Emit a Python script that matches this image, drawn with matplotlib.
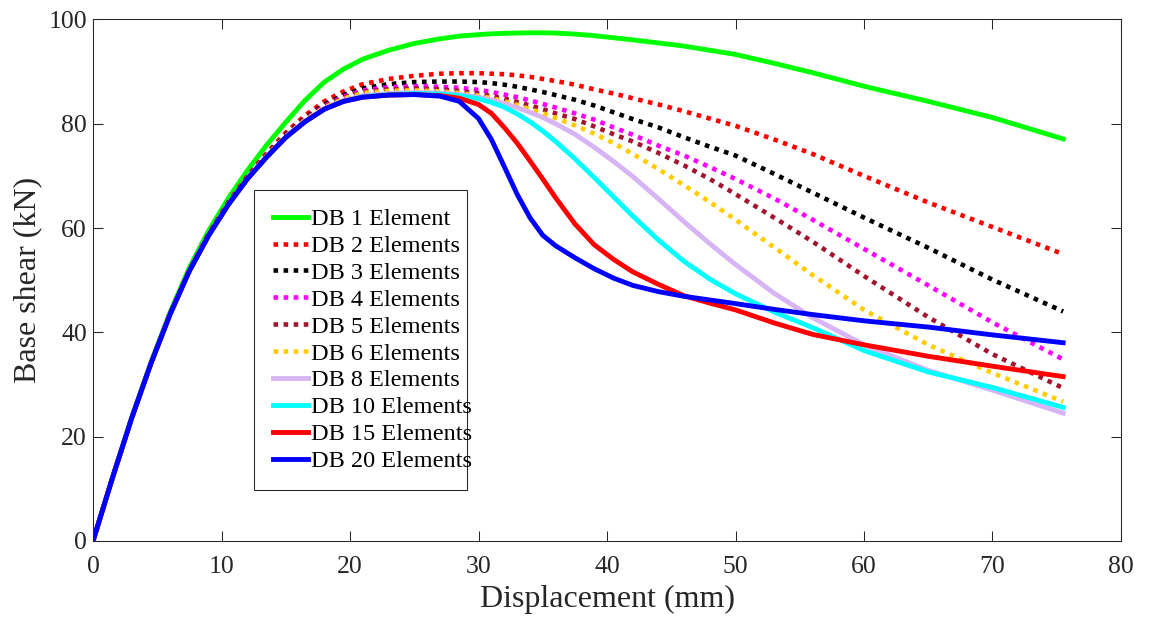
import matplotlib
matplotlib.use('Agg')
import matplotlib.pyplot as plt

plt.rcParams['font.family'] = ['Liberation Serif', 'DejaVu Serif']

# displacement (mm), shared by all series
disp = [0, 1.5, 3, 4.5, 6, 7.5, 9, 10.5, 12, 13.5,
        15, 16.5, 18, 19.5, 21, 23, 25, 27, 28.5, 30,
        31, 32, 33, 34, 35, 36, 37.5, 39, 40.5, 42,
        44, 46, 48, 50, 53, 56, 60, 65, 70, 75.5]

# base shear (kN)
db1 = [0, 12.0, 23.6, 34.2, 43.9, 52.4, 59.5, 65.6, 71.0, 75.9,
       80.3, 84.5, 88.0, 90.5, 92.4, 94.1, 95.4, 96.3, 96.8, 97.1,
       97.25, 97.35, 97.4, 97.45, 97.45, 97.4, 97.2, 96.9, 96.5, 96.1,
       95.5, 94.9, 94.1, 93.3, 91.6, 89.8, 87.2, 84.3, 81.2, 77.1]
db2 = [0, 12.0, 23.5, 34.0, 43.6, 52.0, 58.9, 64.8, 69.9, 74.3,
       78.3, 81.6, 84.3, 86.2, 87.6, 88.6, 89.2, 89.6, 89.7, 89.7,
       89.6, 89.5, 89.3, 89.0, 88.6, 88.2, 87.5, 86.6, 85.8, 84.9,
       83.7, 82.4, 81.0, 79.6, 77.0, 74.2, 70.0, 64.9, 60.2, 55.0]
db3 = [0, 12.0, 23.5, 34.0, 43.6, 51.9, 58.8, 64.7, 69.7, 74.0,
       77.9, 81.1, 83.7, 85.5, 86.8, 87.6, 88.0, 88.1, 88.1, 88.0,
       87.8, 87.5, 87.1, 86.6, 86.1, 85.5, 84.6, 83.5, 82.2, 80.9,
       79.3, 77.4, 75.6, 73.9, 70.4, 66.8, 62.0, 56.2, 50.1, 44.0]
db4 = [0, 12.0, 23.5, 34.0, 43.6, 51.9, 58.7, 64.6, 69.6, 73.9,
       77.7, 80.9, 83.4, 85.2, 86.4, 87.0, 87.2, 87.1, 86.9, 86.5,
       86.1, 85.6, 85.1, 84.5, 83.8, 83.1, 82.0, 80.8, 79.3, 77.9,
       75.8, 73.9, 71.7, 69.4, 65.7, 61.6, 56.0, 49.0, 41.9, 34.8]
db5 = [0, 12.0, 23.5, 34.0, 43.6, 51.9, 58.7, 64.5, 69.6, 73.8,
       77.6, 80.8, 83.2, 85.0, 86.1, 86.6, 86.8, 86.6, 86.3, 85.8,
       85.3, 84.8, 84.2, 83.5, 82.8, 82.0, 80.9, 79.5, 78.0, 76.6,
       74.4, 72.0, 69.4, 66.5, 62.0, 57.4, 50.8, 42.9, 35.8, 29.3]
db6 = [0, 12.0, 23.5, 34.0, 43.6, 51.9, 58.7, 64.5, 69.5, 73.8,
       77.6, 80.7, 83.1, 84.8, 85.9, 86.3, 86.4, 86.2, 85.9, 85.4,
       84.9, 84.3, 83.6, 82.8, 82.0, 81.1, 79.7, 78.1, 76.3, 74.2,
       71.3, 68.2, 65.0, 61.6, 56.3, 51.0, 44.3, 37.6, 32.2, 26.7]
db8 = [0, 12.0, 23.5, 34.0, 43.5, 51.8, 58.6, 64.4, 69.4, 73.6,
       77.4, 80.5, 82.9, 84.5, 85.4, 85.8, 86.0, 85.9, 85.6, 85.1,
       84.6, 83.9, 83.1, 82.2, 81.2, 80.0, 78.0, 75.5, 72.8, 69.9,
       65.6, 61.2, 57.0, 53.0, 47.5, 42.8, 37.6, 32.7, 28.9, 24.5]
db10 = [0, 12.0, 23.5, 34.0, 43.5, 51.8, 58.6, 64.4, 69.4, 73.6,
        77.4, 80.4, 82.8, 84.3, 85.2, 85.6, 85.8, 85.7, 85.4, 84.8,
        84.1, 83.2, 81.9, 80.4, 78.6, 76.6, 73.3, 69.7, 66.0, 62.3,
        57.7, 53.6, 50.2, 47.4, 43.9, 40.9, 36.5, 32.4, 29.4, 25.6]
db15 = [0, 12.0, 23.5, 34.0, 43.5, 51.8, 58.6, 64.4, 69.4, 73.6,
        77.4, 80.4, 82.8, 84.3, 85.1, 85.5, 85.6, 85.4, 84.9, 83.7,
        82.0, 79.3, 76.3, 72.9, 69.4, 65.8, 60.8, 56.8, 54.0, 51.6,
        49.2, 47.0, 45.6, 44.3, 41.8, 39.6, 37.6, 35.4, 33.5, 31.5]
db20 = [0, 12.0, 23.5, 34.0, 43.5, 51.8, 58.6, 64.4, 69.4, 73.6,
        77.4, 80.4, 82.8, 84.3, 85.1, 85.5, 85.6, 85.3, 84.3, 81.0,
        77.0, 71.8, 66.5, 62.0, 58.6, 56.6, 54.3, 52.2, 50.4, 49.0,
        47.8, 46.9, 46.2, 45.5, 44.4, 43.4, 42.2, 41.0, 39.5, 38.0]

labels = ['DB 1 Element', 'DB 2 Elements', 'DB 3 Elements', 'DB 4 Elements',
          'DB 5 Elements', 'DB 6 Elements', 'DB 8 Elements', 'DB 10 Elements',
          'DB 15 Elements', 'DB 20 Elements']
series = [db1, db2, db3, db4, db5, db6, db8, db10, db15, db20]
colors = ['#00FF00', '#FF0000', '#000000', '#FF00FF', '#A2142F',
          '#FFCC00', '#D7B5F5', '#00FFFF', '#FF0000', '#0000FF']
dotted = [False, True, True, True, True, True, False, False, False, False]

fig = plt.figure(figsize=(11.49, 6.19), dpi=100)
ax = fig.add_axes([0.081, 0.1263, 0.8946, 0.8422])

for y, lab, c, dot in zip(series, labels, colors, dotted):
    if dot:
        ax.plot(disp, y, color=c, lw=3.3, linestyle=(0, (1, 1.2)),
                dash_capstyle='butt', label=lab)
    else:
        ax.plot(disp, y, color=c, lw=3.5, label=lab)

ax.set_xlim(0, 80)
ax.set_ylim(0, 100)
ax.set_xticks(range(0, 81, 10))
ax.set_yticks(range(0, 101, 20))
ax.tick_params(direction='in', length=7.5, width=0.75, top=True, right=True,
               labelsize=18.5, colors='#262626')
ax.tick_params(axis='x', pad=11)
ax.tick_params(axis='y', pad=4.5)
for s in ax.spines.values():
    s.set_linewidth(0.75)
    s.set_color('#262626')

ax.set_xlabel('Displacement (mm)', fontsize=23, color='#262626', labelpad=5)
ax.set_ylabel('Base shear (kN)', fontsize=23, color='#262626', labelpad=4)

leg = ax.legend(loc='upper left', bbox_to_anchor=(0.157, 0.098, 0.207, 0.575),
                mode='expand', fontsize=17.5, fancybox=False, framealpha=1,
                edgecolor='#262626', borderpad=0.75, labelspacing=0.2,
                handlelength=1.45, handletextpad=0.12, borderaxespad=0)
leg.get_frame().set_linewidth(0.75)

plt.savefig('out.png', dpi=100)
